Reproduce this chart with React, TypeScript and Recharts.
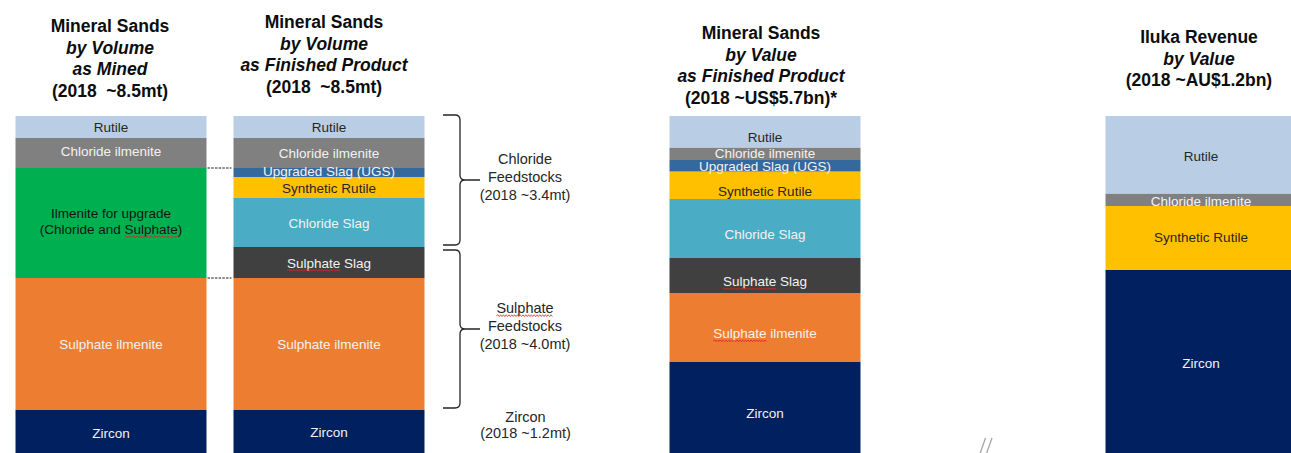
import React from "react";
import { BarChart, Bar, XAxis, YAxis, ReferenceArea } from "recharts";

// ---------- DATA ----------
const categories = ["asMined", "finishedVolume", "gapA", "finishedValue", "gapB", "ilukaRevenue"];

const columnTitles: string[][] = [
  ["Mineral Sands", "by Volume", "as Mined", "(2018  ~8.5mt)"],
  ["Mineral Sands", "by Volume", "as Finished Product", "(2018  ~8.5mt)"],
  [],
  ["Mineral Sands", "by Value", "as Finished Product", "(2018 ~US$5.7bn)*"],
  [],
  ["Iluka Revenue", "by Value", "(2018 ~AU$1.2bn)"],
];

const bottomTickLabels = ["", "", "", "", "//", ""];

// segment sizes (share of the visible stack, same units in every column)
const zircon = [43, 43, null, 91, null, 183];
const sulphateIlmenite = [132, 132, null, 69, null, null];
const ilmeniteUpgrade = [110, null, null, null, null, null];
const sulphateSlag = [null, 31, null, 35, null, null];
const chlorideSlag = [null, 49, null, 59, null, null];
const syntheticRutile = [null, 21, null, 27.5, null, 64];
const upgradedSlag = [null, 9, null, 11.5, null, null];
const chlorideIlmenite = [30, 30, null, 12.5, null, 12.5];
const rutile = [22, 22, null, 31.5, null, 77.5];

const segmentLabels: Record<string, string[]> = {
  zircon: ["Zircon"],
  sulphateIlmenite: ["Sulphate ilmenite"],
  ilmeniteUpgrade: ["Ilmenite for upgrade", "(Chloride and Sulphate)"],
  sulphateSlag: ["Sulphate Slag"],
  chlorideSlag: ["Chloride Slag"],
  syntheticRutile: ["Synthetic Rutile"],
  upgradedSlag: ["Upgraded Slag (UGS)"],
  chlorideIlmenite: ["Chloride ilmenite"],
  rutile: ["Rutile"],
};

const chlorideFeedstocks = ["Chloride", "Feedstocks", "(2018 ~3.4mt)"];
const sulphateFeedstocks = ["Sulphate", "Feedstocks", "(2018 ~4.0mt)"];
const zirconNote = ["Zircon", "(2018 ~1.2mt)"];

const seriesValues: Record<string, (number | null)[]> = {
  zircon,
  sulphateIlmenite,
  ilmeniteUpgrade,
  sulphateSlag,
  chlorideSlag,
  syntheticRutile,
  upgradedSlag,
  chlorideIlmenite,
  rutile,
};
const seriesOrder = Object.keys(seriesValues);

const table = categories.map((cat, i) => {
  const row: Record<string, any> = { cat };
  seriesOrder.forEach((k) => (row[k] = seriesValues[k][i]));
  return row;
});

const stackTotal = Math.max(
  ...categories.map((_, i) => seriesOrder.reduce((s, k) => s + (seriesValues[k][i] || 0), 0))
);

// feedstock brackets on the "as finished product" volume column
const FV = categories.indexOf("finishedVolume");
const sulphateBottom = zircon[FV] || 0;
const sulphateTop = sulphateBottom + (sulphateIlmenite[FV] || 0) + (sulphateSlag[FV] || 0);
const chlorideTop =
  sulphateTop +
  (chlorideSlag[FV] || 0) +
  (syntheticRutile[FV] || 0) +
  (upgradedSlag[FV] || 0) +
  (chlorideIlmenite[FV] || 0) +
  (rutile[FV] || 0);

// ---------- STYLE ----------
const FONT = "'Liberation Sans', Arial, Helvetica, sans-serif";
const CHART_W = 1310;
const CHART_H = 454;
const PLOT_BOTTOM = 453;
const BAR_SIZE = 191;
const MARGIN = { top: 115, right: 0.5, bottom: 0, left: 1.5 };
const LABEL_SIZE = 13.5;
const NOTE_SIZE = 14.5;
const TITLE_SIZE = 17.5;

const fills: Record<string, string> = {
  zircon: "#002060",
  sulphateIlmenite: "#ED7D31",
  ilmeniteUpgrade: "#00B050",
  sulphateSlag: "#404040",
  chlorideSlag: "#4BACC6",
  syntheticRutile: "#FFC000",
  upgradedSlag: "#35689C",
  chlorideIlmenite: "#808080",
  rutile: "#B9CDE5",
};
const textFills: Record<string, string> = {
  zircon: "#F2F2F2",
  sulphateIlmenite: "#F2F2F2",
  ilmeniteUpgrade: "#141414",
  sulphateSlag: "#F2F2F2",
  chlorideSlag: "#F2F2F2",
  syntheticRutile: "#262626",
  upgradedSlag: "#F2F2F2",
  chlorideIlmenite: "#F2F2F2",
  rutile: "#262626",
};
const LABEL_DY_COL = [0.5, 0.5, 0, 6, 0, 2];
const LABEL_DY_OVERRIDE: Record<string, Record<number, number>> = {
  chlorideIlmenite: { 0: -1.5, 3: 0 },
  upgradedSlag: { 1: -1, 3: 1 },
  syntheticRutile: { 5: -1 },
  zircon: { 0: 2 },
};
// words underlined by the spell-checker in the original slide
const SQUIGGLE_COLS: Record<string, number[]> = {
  ilmeniteUpgrade: [0],
  sulphateSlag: [1, 3],
  sulphateIlmenite: [3],
};
const TITLE_DX = [-0.5, -4.5, 0, -3.5, 0, -1.5];
const TITLE_BASE = [32, 28, 0, 39, 0, 43];
const TITLE_LINE = 21.5;

// Arial / Liberation Sans advance widths (per 1000 em)
const ADV: Record<string, number> = {
  " ": 278, "(": 333, ")": 333, C: 722, S: 667, a: 556, d: 556, e: 556, g: 556, h: 556,
  i: 222, l: 222, m: 833, n: 556, o: 556, p: 556, r: 333, t: 278, u: 556,
};
const textWidth = (s: string, size: number) =>
  (s.split("").reduce((w, c) => w + (ADV[c] ?? 556), 0) * size) / 1000;

const squiggle = (text: string, cx: number, baseline: number, size: number, word = "Sulphate") => {
  const idx = text.indexOf(word);
  if (idx < 0) return null;
  const total = textWidth(text, size);
  const x1 = cx - total / 2 + textWidth(text.slice(0, idx), size);
  const x2 = x1 + textWidth(word, size);
  const y = baseline + 2.6;
  let d = `M ${x1} ${y}`;
  let k = 0;
  for (let x = x1 + 1.4; x <= x2; x += 1.4) {
    d += ` L ${x} ${y + (k % 2 === 0 ? -0.9 : 0.9)}`;
    k++;
  }
  return <path d={d} fill="none" stroke="#E02424" strokeWidth={0.8} />;
};

const TitleTick = (props: any) => {
  const { x, payload } = props;
  const i = categories.indexOf(payload?.value);
  const lines = columnTitles[i] || [];
  if (!lines.length) return <g />;
  return (
    <g>
      {lines.map((t, k) => (
        <text
          key={k}
          x={x + TITLE_DX[i]}
          y={TITLE_BASE[i] + k * TITLE_LINE}
          textAnchor="middle"
          fontFamily={FONT}
          fontSize={TITLE_SIZE}
          fontWeight="bold"
          fontStyle={k > 0 && !t.startsWith("(") ? "italic" : "normal"}
          fill="#0D0D0D"
          style={{ whiteSpace: "pre" }}
          xmlSpace="preserve"
        >
          {t}
        </text>
      ))}
    </g>
  );
};

const BreakTick = (props: any) => {
  const { x, payload } = props;
  const i = categories.indexOf(payload?.value);
  if (bottomTickLabels[i] !== "//") return <g />;
  const b = PLOT_BOTTOM;
  return (
    <g stroke="#A6A6A6" strokeWidth={1.3}>
      <line x1={x - 3} y1={b + 2} x2={x + 3} y2={b - 15} />
      <line x1={x + 3.5} y1={b + 2} x2={x + 9.5} y2={b - 15} />
    </g>
  );
};

const makeLabelShape = (key: string) => (p: any) => {
  const row = p.payload;
  const i = row && row.cat ? categories.indexOf(row.cat) : p.index;
  const v = seriesValues[key][i];
  if (v == null || !p.height) return <g />;
  const cx = p.x + p.width / 2;
  const ov = LABEL_DY_OVERRIDE[key]?.[i];
  const cy = p.y + p.height / 2 + (ov ?? LABEL_DY_COL[i]);
  const lines = segmentLabels[key];
  const lh = 16;
  const start = lines.length === 1 ? cy : cy - 2 - ((lines.length - 1) * lh) / 2;
  const sq = (SQUIGGLE_COLS[key] || []).includes(i);
  const extras: React.ReactNode[] = [];
  if (key === "ilmeniteUpgrade") {
    const x0 = p.x + p.width + 1;
    [p.y, p.y + p.height].forEach((yy, k) =>
      extras.push(
        <line
          key={"d" + k}
          x1={x0}
          x2={x0 + 24}
          y1={yy}
          y2={yy}
          stroke="#1A1A1A"
          strokeWidth={1}
          strokeDasharray="2.5 1.2"
        />
      )
    );
  }
  if (key === "zircon" && i === FV) {
    const tx = p.x + p.width + 101;
    zirconNote.forEach((t, k) =>
      extras.push(
        <text
          key={"z" + k}
          x={tx}
          y={p.y + 7 + k * 16}
          dy="0.35em"
          textAnchor="middle"
          fontFamily={FONT}
          fontSize={NOTE_SIZE}
          fill="#262626"
        >
          {t}
        </text>
      )
    );
  }
  return (
    <g>
      {lines.map((t, k) => {
        const y = start + k * lh;
        return (
          <g key={k}>
            <text
              x={cx}
              y={y}
              dy="0.35em"
              textAnchor="middle"
              fontFamily={FONT}
              fontSize={LABEL_SIZE}
              fill={textFills[key]}
            >
              {t}
            </text>
            {sq ? squiggle(t, cx, y + 0.35 * LABEL_SIZE, LABEL_SIZE) : null}
          </g>
        );
      })}
      {extras}
    </g>
  );
};

const makeBrace = (lines: string[], insetTop: number, insetBottom: number) => (p: any) => {
  const cx = p.x + p.width / 2;
  const right = cx + BAR_SIZE / 2;
  const top = p.y + insetTop;
  const bot = p.y + p.height - insetBottom;
  const mid = (top + bot) / 2;
  const x0 = right + 19;
  const xl = right + 36;
  const xt = right + 56;
  const r = 5;
  const d =
    `M ${x0} ${top} L ${xl - r} ${top} Q ${xl} ${top} ${xl} ${top + r} ` +
    `L ${xl} ${mid - r} Q ${xl} ${mid} ${xl + r} ${mid} L ${xt} ${mid} ` +
    `M ${xl + r} ${mid} Q ${xl} ${mid} ${xl} ${mid + r} ` +
    `L ${xl} ${bot - r} Q ${xl} ${bot} ${xl - r} ${bot} L ${x0} ${bot}`;
  const offs = [-21, -3, 15];
  const tx = right + 101;
  return (
    <g>
      <path d={d} fill="none" stroke="#262626" strokeWidth={1.3} />
      {lines.map((t, k) => (
        <g key={k}>
          <text
            x={tx}
            y={mid + offs[k]}
            dy="0.35em"
            textAnchor="middle"
            fontFamily={FONT}
            fontSize={NOTE_SIZE}
            fill="#262626"
          >
            {t}
          </text>
          {squiggle(t, tx, mid + offs[k] + 0.35 * NOTE_SIZE, NOTE_SIZE)}
        </g>
      ))}
    </g>
  );
};

const Layer = ({ overlay }: { overlay: boolean }) => (
  <BarChart width={CHART_W} height={CHART_H} data={table} margin={MARGIN} barSize={BAR_SIZE}>
    <XAxis
      dataKey="cat"
      xAxisId={0}
      type="category"
      height={1}
      axisLine={false}
      tickLine={false}
      interval={0}
      tick={overlay ? BreakTick : false}
    />
    <XAxis
      dataKey="cat"
      xAxisId="top"
      orientation="top"
      type="category"
      height={1}
      axisLine={false}
      tickLine={false}
      interval={0}
      tick={overlay ? TitleTick : false}
    />
    <YAxis hide type="number" domain={[0, stackTotal]} allowDataOverflow />
    {seriesOrder.map((k) =>
      overlay ? (
        <Bar
          key={k}
          dataKey={k}
          stackId="s"
          xAxisId={0}
          fill="none"
          isAnimationActive={false}
          shape={makeLabelShape(k)}
        />
      ) : (
        <Bar key={k} dataKey={k} stackId="s" xAxisId={0} fill={fills[k]} isAnimationActive={false} />
      )
    )}
    {overlay && (
      <ReferenceArea
        xAxisId={0}
        x1={categories[FV]}
        x2={categories[FV]}
        y1={sulphateTop}
        y2={chlorideTop}
        ifOverflow="visible"
        shape={makeBrace(chlorideFeedstocks, -1, 2)}
      />
    )}
    {overlay && (
      <ReferenceArea
        xAxisId={0}
        x1={categories[FV]}
        x2={categories[FV]}
        y1={sulphateBottom}
        y2={sulphateTop}
        ifOverflow="visible"
        shape={makeBrace(sulphateFeedstocks, 3, 2)}
      />
    )}
  </BarChart>
);

export default function App() {
  return (
    <div
      style={{
        position: "absolute",
        left: 0,
        top: 0,
        width: 1291,
        height: 453,
        overflow: "hidden",
        background: "#ffffff",
      }}
    >
      <div style={{ position: "absolute", left: 0, top: 0 }}>
        <Layer overlay={false} />
      </div>
      <div style={{ position: "absolute", left: 0, top: 0 }}>
        <Layer overlay={true} />
      </div>
    </div>
  );
}
